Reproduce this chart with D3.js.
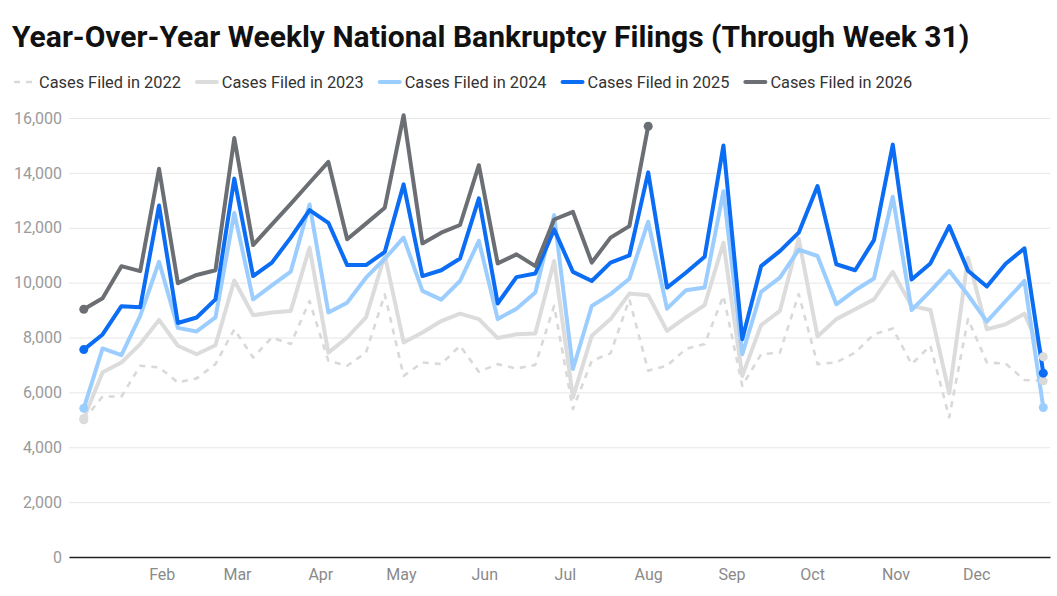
<!DOCTYPE html>
<html>
<head>
<meta charset="utf-8">
<script src="https://cdn.jsdelivr.net/npm/d3@7"></script>
<style>
  body { margin: 0; background: #fff; font-family: Roboto, "Noto Sans", sans-serif; }
</style>
</head>
<body>
<div id="chart"></div>
<script>
// ---- Data (weekly national bankruptcy filings) ----
const weeks = d3.range(1, 53);                 // week numbers 1..52
const firstWeekDate = new Date(2025, 0, 3);    // where week 1 sits on the month axis

const cases2022 = [5000, 5850, 5850, 6970, 6910, 6360, 6510, 7030, 8300, 7270,
    8000, 7760, 9330, 7150, 6970, 7450, 9570, 6600, 7090, 7030,
    7700, 6750, 7030, 6870, 7000, 9150, 5390, 7150, 7420, 9390,
    6790, 6970, 7580, 7760, 9520, 6240, 7390, 7450, 9580, 7030,
    7090, 7450, 8120, 8330, 7030, 7700, 5090, 8670, 7090, 7050,
    6450, 6420];
const cases2023 = [5050, 6730, 7090, 7760, 8640, 7700, 7390, 7720, 10080, 8810,
    8910, 8970, 11270, 7450, 8000, 8730, 11000, 7820, 8180, 8600,
    8870, 8670, 7980, 8120, 8150, 10790, 5820, 8060, 8670, 9600,
    9540, 8240, 8730, 9180, 11450, 6600, 8450, 8970, 11600, 8040,
    8670, 9030, 9390, 10390, 9150, 9000, 5970, 10910, 8300, 8480,
    8870, 7300];
const cases2024 = [5420, 7600, 7360, 8790, 10760, 8350, 8220, 8730, 12540, 9390,
    9900, 10400, 12850, 8910, 9270, 10180, 10870, 11640, 9700, 9380,
    10060, 11520, 8670, 9050, 9640, 12460, 6850, 9150, 9580, 10140,
    12220, 9050, 9720, 9820, 13330, 7390, 9660, 10180, 11200, 10970,
    9210, 9720, 10150, 13130, 9000, 9690, 10430, 9550, 8580, 9330,
    10060, 5450];
const cases2025 = [7560, 8110, 9140, 9100, 12810, 8530, 8730, 9390, 13790, 10240,
    10730, 11640, 12640, 12180, 10640, 10640, 11120, 13580, 10240, 10450,
    10880, 13070, 9240, 10200, 10330, 11940, 10390, 10060, 10730, 10990,
    14020, 9820, 10360, 10940, 15000, 7940, 10600, 11150, 11820, 13520,
    10670, 10450, 11550, 15030, 10110, 10700, 12060, 10430, 9860, 10690,
    11250, 6700];
const cases2026 = [9030, 9430, 10600, 10420, 14150, 9980, 10280, 10450, 15270, 11370,
    12120, 12870, 13640, 14400, 11580, 12150, 12730, 16100, 11430, 11820,
    12100, 14280, 10700, 11030, 10600, 12300, 12580, 10730, 11640, 12060,
    15700];

const seriesNames = ["Cases Filed in 2022", "Cases Filed in 2023", "Cases Filed in 2024",
    "Cases Filed in 2025", "Cases Filed in 2026"];
const yTicks = [0, 2000, 4000, 6000, 8000, 10000, 12000, 14000, 16000];
const monthTicks = ["2025-02-01", "2025-03-01", "2025-04-01", "2025-05-01", "2025-06-01",
    "2025-07-01", "2025-08-01", "2025-09-01", "2025-10-01", "2025-11-01", "2025-12-01"];

const titleText = "Year-Over-Year Weekly National Bankruptcy Filings (Through Week 31)";

// ---- Layout ----
const width = 1057, height = 596;
const margin = { top: 118, right: 7, bottom: 39, left: 69 };
const plotRight = width - margin.right;
const plotBottom = height - margin.bottom;

// styling per series (same order as seriesNames)
const styles = [
    { color: '#d9d9d9', width: 2.6, dash: '6,6' },
    { color: '#dcdcdc', width: 4 },
    { color: '#9ccdff', width: 4 },
    { color: '#0b6cf4', width: 4 },
    { color: '#6b6e73', width: 4 },
];
const seriesValues = [cases2022, cases2023, cases2024, cases2025, cases2026];

const series = seriesNames.map((name, i) => ({
    name,
    values: seriesValues[i].map((v, j) => ({ week: weeks[j], value: v })),
    ...styles[i]
}));

const weekDate = w => d3.timeDay.offset(firstWeekDate, 7 * (w - 1));

// ---- SVG ----
const svg = d3.select('#chart')
    .append('svg')
    .attr('width', width)
    .attr('height', height)
    .style('font-family', 'Roboto, "Noto Sans", sans-serif');

// Scales
const xScale = d3.scaleTime()
    .domain([new Date(2024, 11, 28, 12), new Date(2025, 11, 28, 12)])
    .range([margin.left, plotRight]);

const yScale = d3.scaleLinear()
    .domain([0, 16000])
    .range([plotBottom, margin.top]);

// Title
svg.append('text')
    .attr('x', 12)
    .attr('y', 47)
    .attr('font-size', 30)
    .attr('font-weight', 700)
    .attr('fill', '#111')
    .text(titleText);

// Legend
const legend = svg.append('g').attr('transform', 'translate(13, 82)');
let lx = 0;
series.forEach(s => {
    const item = legend.append('g').attr('transform', `translate(${lx}, 0)`);
    item.append('line')
        .attr('x1', 1).attr('x2', 21)
        .attr('y1', 0).attr('y2', 0)
        .attr('stroke', s.color)
        .attr('stroke-width', s.dash ? 2.6 : 4)
        .attr('stroke-dasharray', s.dash || null)
        .attr('stroke-linecap', s.dash ? 'butt' : 'round');
    const t = item.append('text')
        .attr('x', 26)
        .attr('y', 6)
        .attr('font-size', 16.35)
        .attr('fill', '#333')
        .text(s.name);
    lx += 26 + t.node().getComputedTextLength() + 15;
});

// Y axis with grid lines
const yAxis = d3.axisLeft(yScale)
    .tickValues(yTicks)
    .tickFormat(d3.format(','))
    .tickSize(-(plotRight - margin.left))
    .tickPadding(7);

const yAxisG = svg.append('g')
    .attr('class', 'axis y-axis')
    .attr('transform', `translate(${margin.left}, 0)`)
    .call(yAxis);
yAxisG.select('.domain').remove();
yAxisG.selectAll('.tick line').attr('stroke', '#e6e6e6');
yAxisG.selectAll('.tick text')
    .attr('fill', '#9a9a9a')
    .attr('font-size', 16)
    .attr('font-family', 'Roboto, sans-serif');

// Lines
const line = d3.line()
    .x(d => xScale(weekDate(d.week)))
    .y(d => yScale(d.value));

const linesG = svg.append('g');
linesG.selectAll('path')
    .data(series)
    .join('path')
    .attr('d', d => line(d.values))
    .attr('fill', 'none')
    .attr('stroke', d => d.color)
    .attr('stroke-width', d => d.width)
    .attr('stroke-dasharray', d => d.dash || null)
    .attr('stroke-linejoin', 'round')
    .attr('stroke-linecap', d => d.dash ? 'butt' : 'round');

// Endpoint dots
const ends = series.flatMap(s => [
    { s, d: s.values[0] },
    { s, d: s.values[s.values.length - 1] }
]);
linesG.selectAll('circle')
    .data(ends)
    .join('circle')
    .attr('cx', e => xScale(weekDate(e.d.week)))
    .attr('cy', e => yScale(e.d.value))
    .attr('r', 4.5)
    .attr('fill', e => e.s.color);

// X axis (month labels, baseline)
const xAxis = d3.axisBottom(xScale)
    .tickValues(monthTicks.map(d => d3.timeParse('%Y-%m-%d')(d)))
    .tickFormat(d3.timeFormat('%b'))
    .tickSize(0)
    .tickSizeOuter(0)
    .tickPadding(12);

const xAxisG = svg.append('g')
    .attr('class', 'axis x-axis')
    .attr('transform', `translate(0, ${plotBottom})`)
    .call(xAxis);
xAxisG.select('.domain')
    .attr('stroke', '#222')
    .attr('stroke-width', 1.5);
xAxisG.selectAll('.tick text')
    .attr('fill', '#8a8a8a')
    .attr('font-size', 16)
    .attr('font-family', 'Roboto, sans-serif');
</script>
</body>
</html>
